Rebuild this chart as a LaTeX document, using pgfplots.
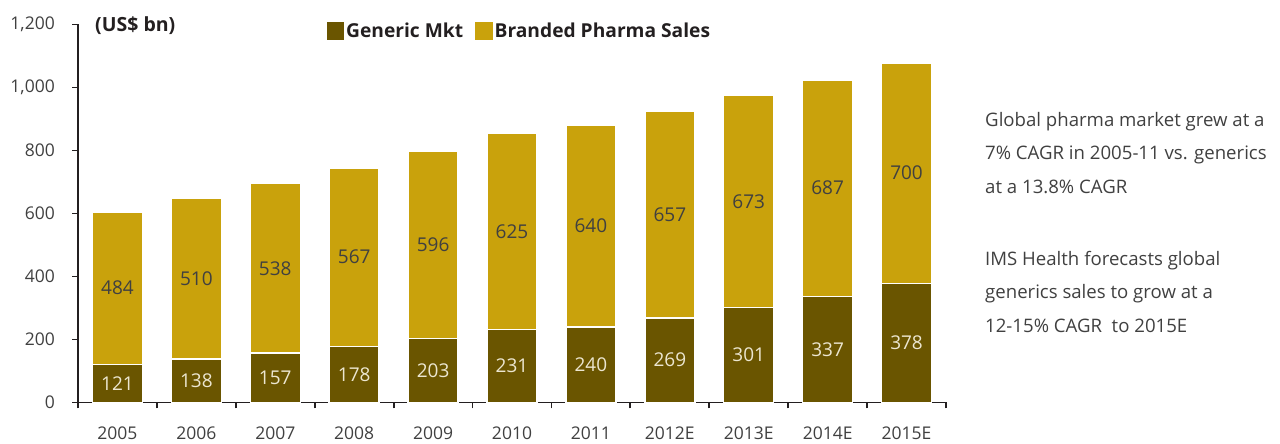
\documentclass[border=0pt]{standalone}
\usepackage{fontspec}
\setmainfont{Open Sans}
\usepackage{pgfplots}
\pgfplotsset{compat=1.18}
\usepackage{pgfplotstable}
\definecolor{gen}{RGB}{106,85,0}
\definecolor{brd}{RGB}{201,162,12}
\definecolor{txt}{RGB}{64,64,64}
\definecolor{lbl}{RGB}{236,230,208}
\definecolor{dark}{RGB}{35,31,32}

\pgfplotstableread{
x g b
0 121 484
1 138 510
2 157 538
3 178 567
4 203 596
5 231 625
6 240 640
7 269 657
8 301 673
9 337 687
10 378 700
}\data

\pgfplotsset{
  common/.style={
    at={(78pt,41.5pt)}, anchor=south west,
    scale only axis, width=868pt, height=378pt,
    xmin=-0.5, xmax=10.5, ymin=0, ymax=1200,
    /pgf/number format/assume math mode=true,
  }
}

\begin{document}
\begin{tikzpicture}
\path[use as bounding box] (0pt,0pt) rectangle (1280pt,444pt);
\begin{axis}[
  common,
  ybar stacked, bar width=50pt,
  axis x line*=bottom, axis y line*=left,
  axis line style={line width=1.8pt, color=dark, -},
  tick style={line width=1.8pt, color=dark},
  tick align=outside,
  xtick={0,...,10},
  xticklabels={2005,2006,2007,2008,2009,2010,2011,2012E,2013E,2014E,2015E},
  major x tick style={draw=none},
  minor xtick={-0.5,0.5,...,10.5},
  minor tick length=6pt,
  major tick length=6pt,
  ytick={0,200,...,1200},
  /pgf/number format/1000 sep={,},
  ticklabel style={font=\fontsize{17.5}{19}\selectfont, text=txt},
  xticklabel style={inner sep=0pt, anchor=north, yshift=-18pt},
  yticklabel style={inner sep=0pt, anchor=east, xshift=-17pt},
  legend columns=-1,
  legend style={draw=none, fill=none, at={(rel axis cs:0.5085,0.983)}, anchor=center,
    font=\fontsize{19.2}{21}\selectfont\bfseries, text=dark,
    /tikz/every even column/.append style={column sep=10pt},
    inner sep=0pt},
  clip=false,
]
\addplot[fill=gen, draw=white, line width=1.5pt,
  legend image code/.code={\fill[gen] (0pt,-8pt) rectangle (16pt,8pt);}]
  table[x=x,y=g]{\data};
\addlegendentry{Generic Mkt}
\addplot[fill=brd, draw=white, line width=1.5pt,
  legend image code/.code={\fill[brd] (0pt,-8pt) rectangle (16pt,8pt);}]
  table[x=x,y=b]{\data};
\addlegendentry{Branded Pharma Sales}
\node[anchor=west, inner sep=0pt, font=\fontsize{19.5}{21}\selectfont\bfseries, text=dark]
  at (rel axis cs:0.0196,0.996) {(US\$ bn)};
\end{axis}
\begin{axis}[
  common, hide axis,
  nodes near coords, point meta=explicit,
  nodes near coords style={anchor=center, inner sep=0pt, font=\fontsize{19}{21}\selectfont},
]
\addplot[draw=none, mark=none, nodes near coords style={text=lbl}]
  table[x=x, y expr=\thisrow{g}/2, meta=g]{\data};
\addplot[draw=none, mark=none, nodes near coords style={text=txt}]
  table[x=x, y expr=\thisrow{g}+\thisrow{b}/2, meta=b]{\data};
\end{axis}
\begin{scope}[every node/.style={anchor=base west, inner sep=0pt, font=\fontsize{18.6}{20}\selectfont, text=txt}]
\node at (985pt,317pt) {Global pharma market grew at a};
\node at (985pt,284pt) {7\% CAGR in 2005-11 vs. generics};
\node at (985pt,250pt) {at a 13.8\% CAGR};
\node at (985pt,178pt) {IMS Health forecasts global};
\node at (985pt,145pt) {generics sales to grow at a};
\node at (985pt,111pt) {12-15\% CAGR\ \ to 2015E};
\end{scope}
\end{tikzpicture}
\end{document}
